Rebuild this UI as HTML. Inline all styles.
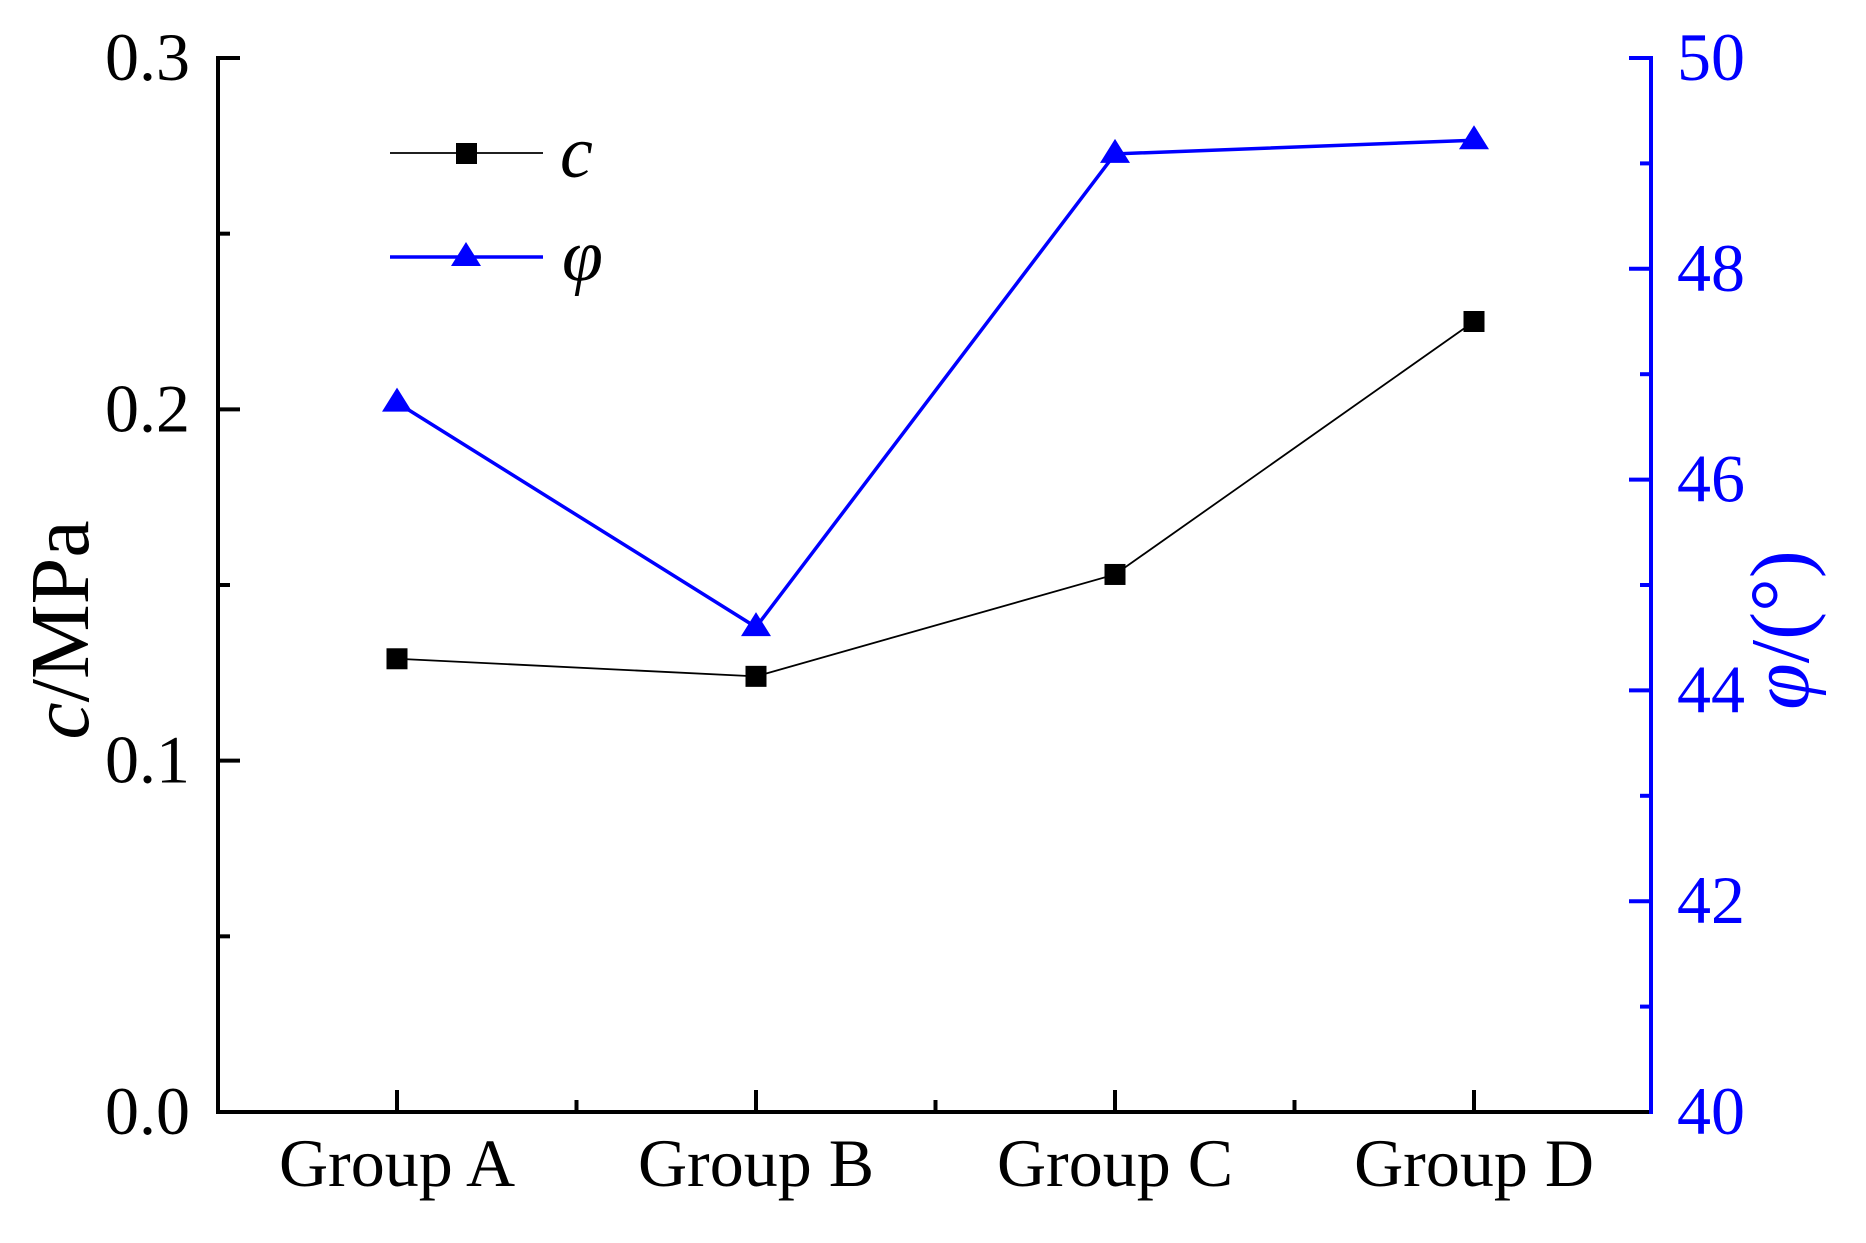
<!DOCTYPE html>
<html><head><meta charset="utf-8"><style>
html,body{margin:0;padding:0;background:#fff}
svg{display:block}
text{font-family:"Liberation Serif",serif}
</style></head><body>
<svg id="chart" width="1866" height="1243" viewBox="0 0 1866 1243" xmlns="http://www.w3.org/2000/svg">
<g id="axes"></g>
<g id="series"></g>
<g id="legend">
  <line x1="390" y1="153" x2="543" y2="153" stroke="#000" stroke-width="1.8"/>
  <rect x="456" y="143" width="21" height="21" fill="#000"/>
  <text x="560" y="177" font-size="74" font-style="italic">c</text>
  <line x1="390" y1="257" x2="543" y2="257" stroke="#0000ff" stroke-width="3.5"/>
  <polygon points="466,242 481,266 451,266" fill="#0000ff"/>
  <text x="562" y="280" font-size="74" font-style="italic">φ</text>
</g>
<text x="88" y="630" font-size="84" text-anchor="middle" transform="rotate(-90 88 630)"><tspan font-style="italic">c</tspan>/MPa</text>
<text x="1808" y="630" font-size="84" text-anchor="middle" fill="#0000ff" transform="rotate(-90 1808 630)"><tspan font-style="italic">φ</tspan>/(°)</text>
</svg>
<script>
const categories = ["Group A", "Group B", "Group C", "Group D"];
const cValues = [0.129, 0.124, 0.153, 0.225];
const phiValues = [46.73, 44.6, 49.09, 49.22];
const leftTicks = ["0.0", "0.1", "0.2", "0.3"];
const rightTicks = ["40", "42", "44", "46", "48", "50"];

const NS = "http://www.w3.org/2000/svg";
const X0 = 218, X1 = 1651, Y0 = 1112, Y1 = 58;
const catX = [397, 756, 1116, 1474];
function xPos(i) { return X0 + (catX[0] - X0) + i * (catX[3] - catX[0]) / (categories.length - 1); }
function yLeft(v) { return Y0 - (v - 0) / (0.3 - 0) * (Y0 - Y1); }
function yRight(v) { return Y0 - (v - 40) / (50 - 40) * (Y0 - Y1); }
function mk(tag, attrs, parent) {
  const el = document.createElementNS(NS, tag);
  for (const k in attrs) el.setAttribute(k, attrs[k]);
  parent.appendChild(el);
  return el;
}
const axes = document.getElementById("axes");
const series = document.getElementById("series");

// left axis
let el = mk("line", {x1: X0, y1: Y1 - 2, x2: X0, y2: Y0 + 2, stroke: "#000", "stroke-width": 4}, axes);


for (let i = 0; i <= 6; i++) {
  const v = i * 0.05, y = yLeft(v), major = i % 2 === 0;
  el = mk("line", {x1: X0, y1: y, x2: X0 + (major ? 22 : 12), y2: y, stroke: "#000", "stroke-width": 4}, axes);
  
  
}
leftTicks.forEach(function (t) {
  const y = yLeft(parseFloat(t));
  const tx = mk("text", {x: 190, y: y + 22, "font-size": 68, "text-anchor": "end"}, axes);
  tx.textContent = t;
  
  
});
// right axis
el = mk("line", {x1: X1, y1: Y1 - 2, x2: X1, y2: Y0 + 2, stroke: "#0000ff", "stroke-width": 4}, axes);


for (let v = 40; v <= 50; v++) {
  const y = yRight(v), major = v % 2 === 0;
  el = mk("line", {x1: X1 - (major ? 22 : 11), y1: y, x2: X1, y2: y, stroke: "#0000ff", "stroke-width": 4}, axes);
  
  
}
rightTicks.forEach(function (t) {
  const y = yRight(parseFloat(t));
  const tx = mk("text", {x: 1677, y: y + 22, "font-size": 68, fill: "#0000ff"}, axes);
  tx.textContent = t;
  
  
});
// x axis
el = mk("line", {x1: X0 - 2, y1: Y0, x2: X1 - 2, y2: Y0, stroke: "#000", "stroke-width": 4}, axes);


categories.forEach(function (c, i) {
  const x = xPos(i);
  const t = mk("line", {x1: x, y1: Y0, x2: x, y2: Y0 - 22, stroke: "#000", "stroke-width": 4}, axes);
  
  
  if (i < categories.length - 1) {
    const mx = (xPos(i) + xPos(i + 1)) / 2;
    const m = mk("line", {x1: mx, y1: Y0, x2: mx, y2: Y0 - 12, stroke: "#000", "stroke-width": 4}, axes);
    
    
  }
  const tx = mk("text", {x: x, y: 1186, "font-size": 68, "text-anchor": "middle"}, axes);
  tx.textContent = c;
  
  
});
// c series
let pts = cValues.map(function (v, i) { return xPos(i) + "," + yLeft(v); }).join(" ");
el = mk("polyline", {points: pts, fill: "none", stroke: "#000", "stroke-width": 1.8}, series);


cValues.forEach(function (v, i) {
  const r = mk("rect", {x: xPos(i) - 10.5, y: yLeft(v) - 10.5, width: 21, height: 21, fill: "#000"}, series);
  
  
});
// phi series
pts = phiValues.map(function (v, i) { return xPos(i) + "," + yRight(v); }).join(" ");
el = mk("polyline", {points: pts, fill: "none", stroke: "#0000ff", "stroke-width": 3.5}, series);


phiValues.forEach(function (v, i) {
  const x = xPos(i), y = yRight(v);
  const p = mk("polygon", {points: x + "," + (y - 15) + " " + (x + 15) + "," + (y + 9) + " " + (x - 15) + "," + (y + 9), fill: "#0000ff"}, series);
  
  
});
</script>
</body></html>
